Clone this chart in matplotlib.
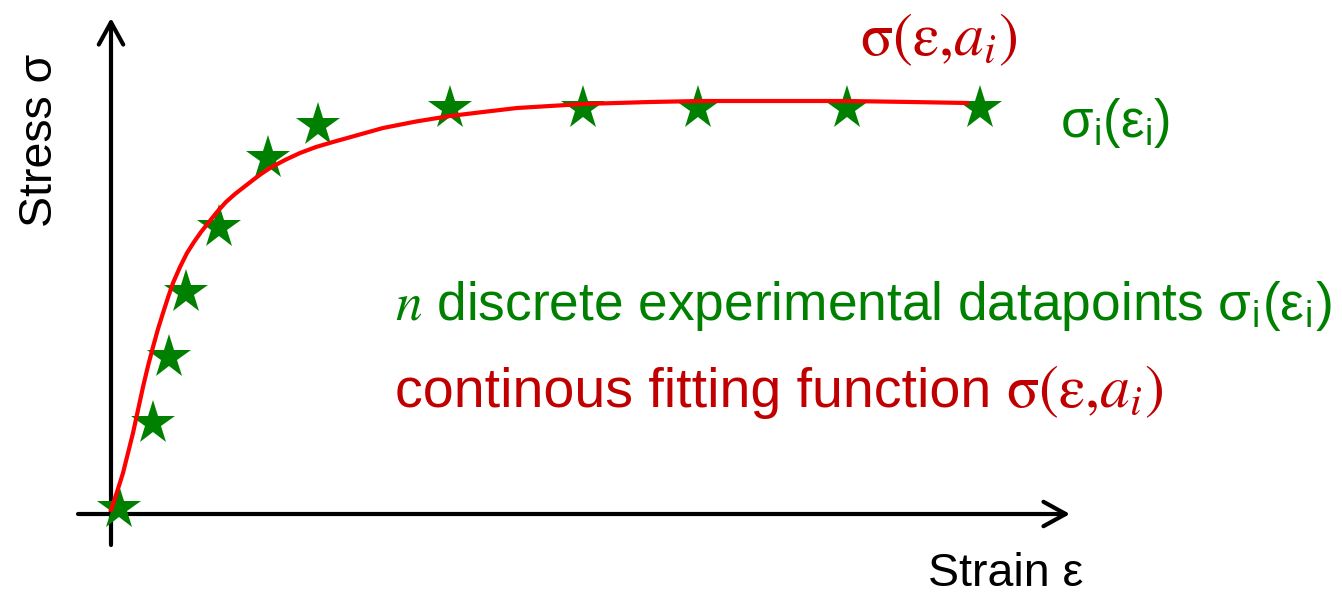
import matplotlib
matplotlib.use("Agg")
import matplotlib.pyplot as plt

plt.rcParams['font.family'] = ['Liberation Sans', 'DejaVu Sans']

# =========================
# DATA
# =========================
# discrete experimental datapoints sigma_i(eps_i)
strain_pts = [0.08, 0.42, 0.58, 0.75, 1.08, 1.57, 2.07, 3.39, 4.72, 5.87, 7.36, 8.69]
stress_pts = [0.06, 0.91, 1.57, 2.22, 2.87, 3.56, 3.89, 4.06, 4.06, 4.06, 4.06, 4.06]

# continuous fitting function sigma(eps, a_i)
strain_fit = [0.00, 0.06, 0.12, 0.17, 0.22, 0.27, 0.32, 0.37, 0.42, 0.47, 0.52,
              0.57, 0.62, 0.69, 0.76, 0.83, 0.90, 0.98, 1.06, 1.15, 1.24,
              1.33, 1.42, 1.50, 1.59, 1.74, 1.89, 2.05, 2.22, 2.47, 2.72,
              3.05, 3.39, 3.72, 4.06, 4.72, 5.39, 5.89, 6.60, 7.36, 8.00, 8.56]
stress_fit = [0.04, 0.22, 0.41, 0.61, 0.81, 1.04, 1.27, 1.48, 1.67, 1.85, 2.01,
              2.165, 2.31, 2.47, 2.61, 2.72, 2.82, 2.92, 3.02, 3.12, 3.20,
              3.27, 3.34, 3.40, 3.46, 3.54, 3.61, 3.67, 3.72, 3.79, 3.86,
              3.925, 3.98, 4.02, 4.06, 4.10, 4.12, 4.13, 4.13, 4.13, 4.12, 4.11]

# extent of the drawn axis arrows
X_AXIS = (-0.33, 9.59)
Y_AXIS = (-0.31, 4.96)

GREEN = '#008000'
DARKRED = '#c00000'

# =========================
# FIGURE
# =========================
fig = plt.figure(figsize=(13.42, 5.97), dpi=100)
ax = fig.add_axes([0, 0, 1, 1])
ax.set_xlim(-1.11, 12.31)
ax.set_ylim(-0.83, 5.14)
ax.axis('off')


def px(x, y):
    # pixel position of the picture -> data units
    return (x - 111) / 100, (514 - y) / 100


arrow = dict(arrowstyle='->,head_length=0.4,head_width=0.22', lw=3,
             color='black', mutation_scale=40, shrinkA=0, shrinkB=0)
ax.annotate('', xy=(X_AXIS[1], 0), xytext=(X_AXIS[0], 0), arrowprops=arrow)
ax.annotate('', xy=(0, Y_AXIS[1]), xytext=(0, Y_AXIS[0]), arrowprops=arrow)

ax.plot(strain_pts, stress_pts, linestyle='none', marker='*', ms=33,
        color=GREEN, mec=GREEN, mew=0, zorder=3)
ax.plot(strain_fit, stress_fit, color='#ff0000', lw=3, zorder=4,
        solid_joinstyle='round')

# =========================
# TEXT
# =========================
serif_label = r'$\mathrm{\sigma(\varepsilon{,}}a_i\mathrm{)}$'

ax.text(*px(40, 140), 'Stress σ', rotation=90, ha='center', va='center',
        fontsize=33.5)
ax.text(*px(928, 596), 'Strain ε', ha='left', va='bottom', fontsize=33.5)

ax.text(*px(860, 55), serif_label,
        color=DARKRED, fontsize=43, math_fontfamily='stix', va='baseline')
ax.text(*px(1060, 137), r'σ$_\mathregular{i}$(ε$_\mathregular{i}$)',
        color=GREEN, fontsize=38, va='baseline')

ax.text(*px(395, 320),
        r'$n$ discrete experimental datapoints σ$_\mathregular{i}$(ε$_\mathregular{i}$)',
        color=GREEN, fontsize=38.3, math_fontfamily='stix', va='baseline')
ax.text(*px(395, 407), 'continous fitting function', color=DARKRED,
        fontsize=40, va='baseline')
ax.text(*px(1006, 407), serif_label,
        color=DARKRED, fontsize=43, math_fontfamily='stix', va='baseline')

fig.savefig('out.png', dpi=100)
